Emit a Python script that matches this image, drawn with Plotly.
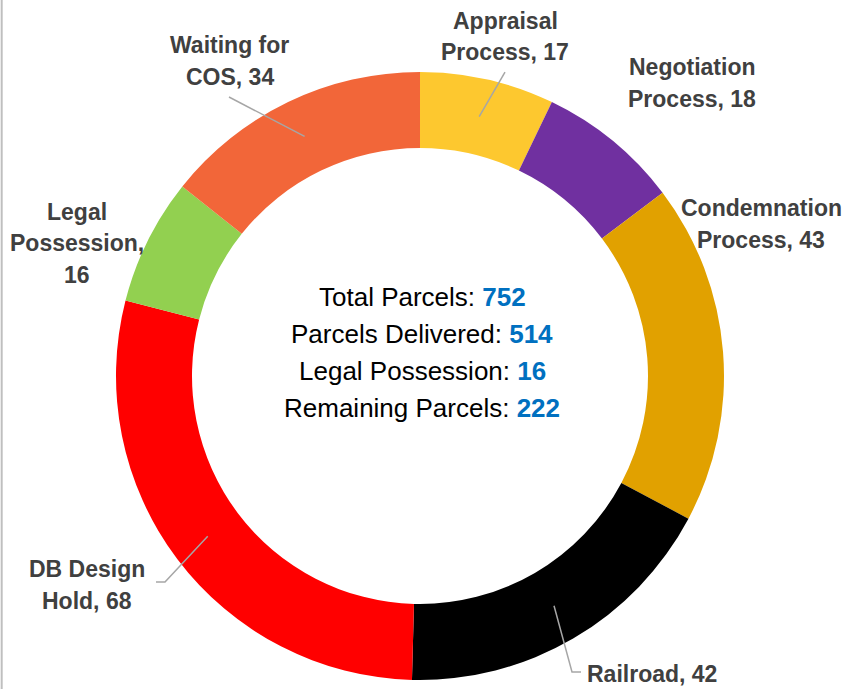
import math
import plotly.graph_objects as go

# data
categories = ["Appraisal Process", "Negotiation Process", "Condemnation Process",
              "Railroad", "DB Design Hold", "Legal Possession", "Waiting for COS"]
parcels = [17, 18, 43, 42, 68, 16, 34]
label_lines = [["Appraisal", "Process, 17"], ["Negotiation", "Process, 18"],
               ["Condemnation", "Process, 43"], ["Railroad, 42"],
               ["DB Design", "Hold, 68"], ["Legal", "Possession,", "16"],
               ["Waiting for", "COS, 34"]]
summary_names = ["Total Parcels", "Parcels Delivered", "Legal Possession", "Remaining Parcels"]
summary_values = [752, 514, 16, 222]

colors = ["#FDC82F", "#7030A0", "#E1A100", "#000000", "#FF0000", "#92D050", "#F26639"]

W, H = 844, 689
CX, CY, R_OUT, HOLE = 420, 376, 304, 0.75
FONT = "Liberation Sans, Arial, sans-serif"

# label placement (pixel centre of first line), and leader line end points
label_pos = [(505, 20), (692, 66), (761, 207), (652, 673), (87, 568), (77, 211), (230, 44)]
leaders = {0: [(505, 72)], 6: [(229, 97)], 4: [(165, 582), (156, 582)], 3: [(572, 672), (581, 672)]}


def px(x, y):
    return x / W, 1 - y / H


fig = go.Figure()
fig.add_trace(go.Pie(
    labels=categories, values=parcels, hole=HOLE, sort=False, direction="clockwise",
    rotation=0, marker=dict(colors=colors, line=dict(width=0)), textinfo="none",
    showlegend=False, hoverinfo="label+value",
    domain=dict(x=[(CX - R_OUT) / W, (CX + R_OUT) / W],
                y=[(H - CY - R_OUT) / H, (H - CY + R_OUT) / H]),
))

# slice labels
for i, lines in enumerate(label_lines):
    x0, y0 = label_pos[i]
    for k, line in enumerate(lines):
        xx, yy = px(x0, y0 + 1 + k * 31.5)
        fig.add_annotation(x=xx, y=yy, xref="paper", yref="paper", text=f"<b>{line}</b>",
                           showarrow=False, xanchor="center", yanchor="middle",
                           font=dict(family=FONT, size=23, color="#404040"))

# leader lines from slice middle to label
total = sum(parcels)
r_mid = R_OUT * (1 + HOLE) / 2
cum = 0
for i, v in enumerate(parcels):
    ang = math.radians((cum + v / 2) / total * 360)
    cum += v
    if i not in leaders:
        continue
    pts = [(CX + r_mid * math.sin(ang), CY - r_mid * math.cos(ang))] + leaders[i]
    path = ""
    for j, (x, y) in enumerate(pts):
        xx, yy = px(x, y)
        path += ("M" if j == 0 else " L") + f" {xx:.5f},{yy:.5f}"
    fig.add_shape(type="path", path=path, xref="paper", yref="paper",
                  line=dict(color="#A6A6A6", width=1.5))

# centre summary
for k, (name, val) in enumerate(zip(summary_names, summary_values)):
    xx, yy = px(422, 297 + k * 37)
    fig.add_annotation(x=xx, y=yy, xref="paper", yref="paper",
                       text=f"{name}: <b><span style='color:#0070C0'>{val}</span></b>",
                       showarrow=False, xanchor="center", yanchor="middle",
                       font=dict(family=FONT, size=26, color="#000000"))

# thin grey border at left edge
fig.add_shape(type="line", x0=0.002, x1=0.002, y0=0, y1=1, xref="paper", yref="paper",
              line=dict(color="#BFBFBF", width=2))

fig.update_layout(width=W, height=H, margin=dict(l=0, r=0, t=0, b=0),
                  paper_bgcolor="white", plot_bgcolor="white")
fig.write_html("out.html", config={"displayModeBar": False},
               post_script="document.body.style.margin='0';")
